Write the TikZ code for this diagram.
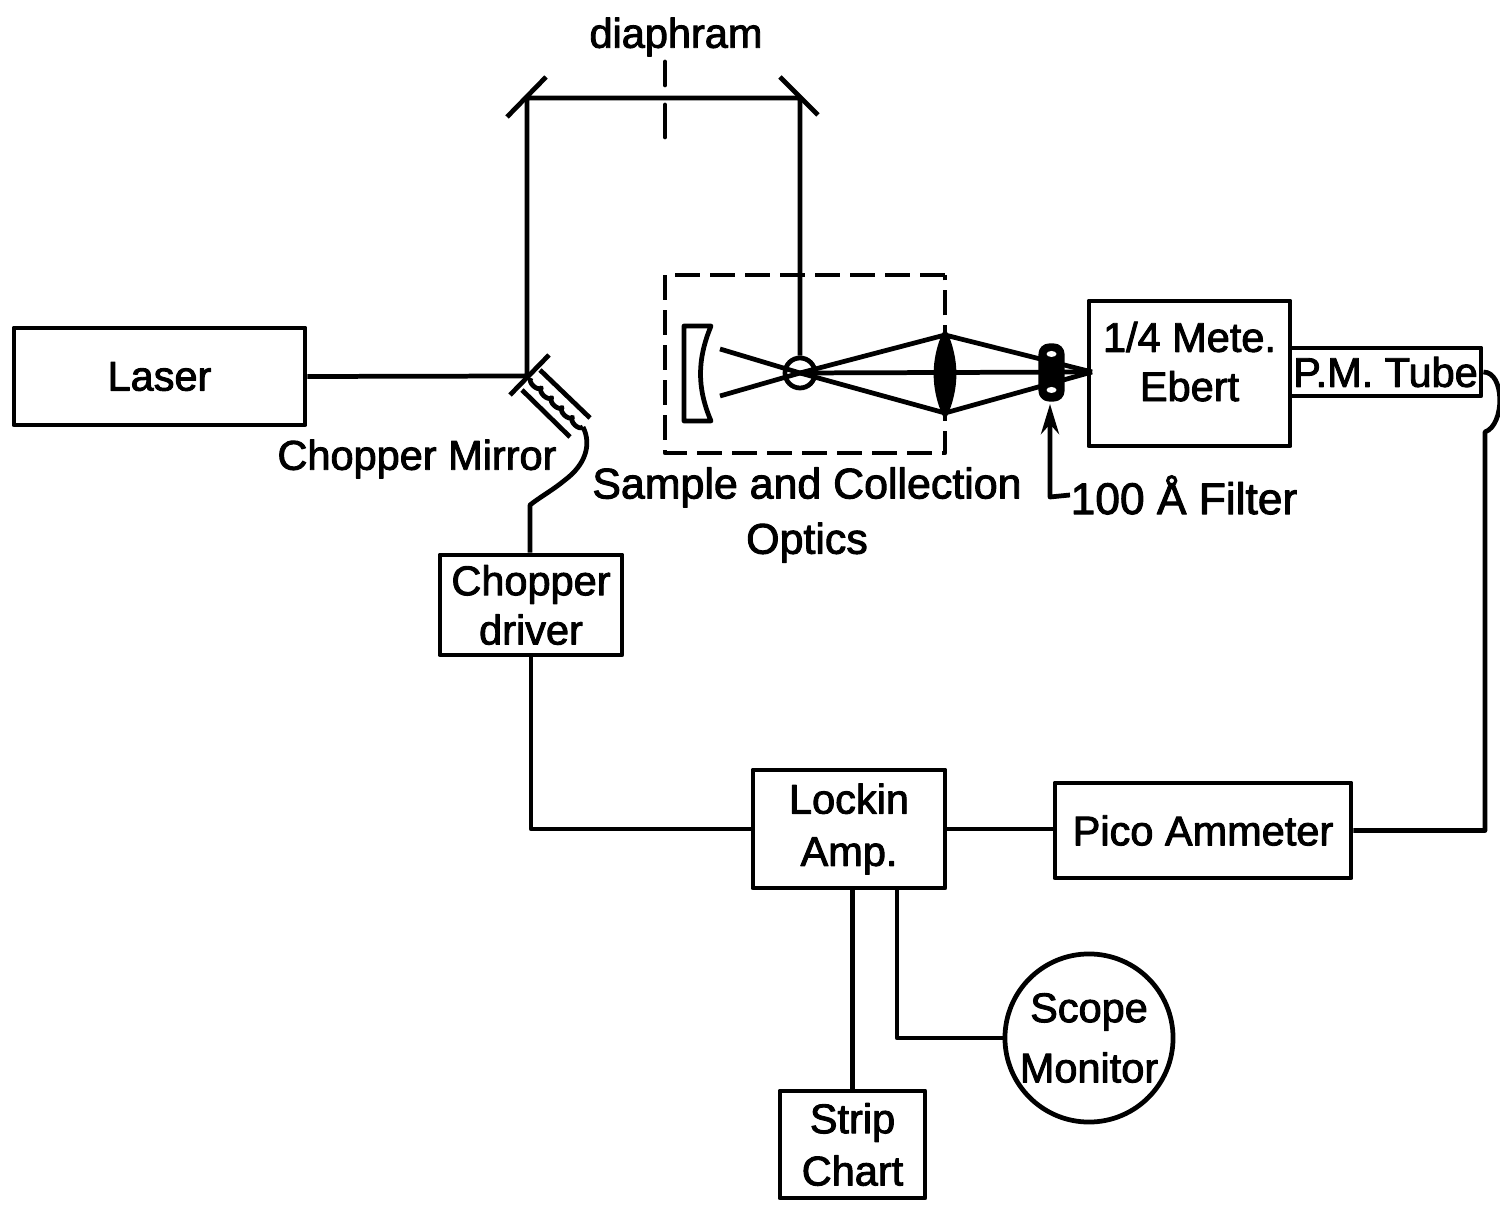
\documentclass[tikz,border=0pt]{standalone}
\usepackage{fontspec}
\setmainfont{Liberation Sans}[RawFeature={embolden=2.2}]
\usetikzlibrary{arrows.meta}
\tikzset{
  blockbox/.style={draw=black,line width=1.35pt,inner sep=0pt,align=center},
  beam/.style={black,line width=1.35pt},
  caption/.style={inner sep=0pt,align=center}
}

\begin{document}
\begin{tikzpicture}[x=.01cm,y=-.01cm,font=\fontsize{11.8}{14}\selectfont,line join=round]
\useasboundingbox (0,0) rectangle (1500,1207);
\node[blockbox,minimum width=2.91cm,minimum height=.97cm] (laser) at (159.5,376.5) {Laser};
\node[blockbox,minimum width=2.01cm,minimum height=1.45cm] (ebert) at (1189.5,373.5) {1/4 Mete.\\Ebert\\[-.25cm]};
\node[blockbox,minimum width=1.91cm,minimum height=.48cm] (pmtube) at (1385.5,372) {P.M. Tube};
\node[blockbox,minimum width=1.82cm,minimum height=1cm] (driver) at (531,605) {Chopper\\driver};
\node[blockbox,minimum width=1.92cm,minimum height=1.18cm] (lockin) at (849,829) {Lockin\\[.03cm]Amp.};
\node[blockbox,minimum width=2.96cm,minimum height=.95cm] (pico) at (1203,830.5) {Pico Ammeter};
\node[blockbox,minimum width=1.45cm,minimum height=1.07cm] (strip) at (852.5,1144.5) {Strip\\[.03cm]Chart};
\node[blockbox,circle,minimum size=1.68cm] (scope) at (1089,1038) {Scope\\[.11cm]Monitor};
\node[draw=black,line width=1.35pt,circle,minimum size=.3cm,inner sep=0pt] (sample) at (800,373) {};
\node[caption] (diaphram) at (676,37) {diaphram};
\node[caption] (choppermirror) at (417,459) {Chopper Mirror};
\node[caption,font=\fontsize{12.2}{14}\selectfont] (collection) at (807,515) {Sample and Collection\\[.06cm]Optics};
\node[caption,anchor=west,font=\fontsize{12.6}{14}\selectfont] (filterlabel) at (1070,495) {100 Å Filter};
\coordinate (chopper) at (527,376);
\coordinate (mirrorl) at (527,98);
\coordinate (mirrorr) at (800,98);
\coordinate (lenstop) at (945,335);
\coordinate (lensbot) at (945,413);
\coordinate (focus) at (1092,372);
\coordinate (coilend) at (583,427);
\coordinate (pmtop) at (1485,432);
\coordinate (filterfoot) at (1050,497);
\coordinate (filtertip) at (1050,404);
\coordinate (scopeout) at (897,888);
\draw[beam] (laser.east) -- (chopper) -- (mirrorl) -- (mirrorr) -- (sample.north);
\draw[beam] (507,117) -- (546,77);
\draw[beam] (780,77) -- (818,115);
\draw[beam,line cap=round] (665,62) -- (665,85);
\draw[beam,line cap=round] (665,105) -- (665,137);
\draw[beam] (510,395) -- (549,355);
\draw[beam] (540,370) -- (590,418);
\draw[beam] (522,390) -- (570,437);
\draw[beam] (531,378) foreach \i in {1,...,5} {to[bend right=90] ++(10.4,9.8)};
\draw[beam] (coilend) .. controls (592,445) and (585,465) .. (565,480) .. controls (553,490) and (540,497) .. (530,505) -- (driver.north -| 530,505);
\draw[beam] (driver.south) |- (lockin.west);
\draw[beam] (lockin.east) -- (lockin.east -| pico.west);
\draw[beam] (pico.east) -| (pmtop) .. controls (1505,425) and (1505,372) .. (pmtube.east);
\draw[beam] (strip.north) -- (strip.north |- lockin.south);
\draw[beam] (scopeout) |- (scope.west);
\draw[beam] (720,349) -- (sample.center) -- (lensbot) -- (focus);
\draw[beam] (720,396) -- (sample.center) -- (lenstop) -- (focus);
\draw[beam] (sample.center) -- (focus);
\draw[beam,dash pattern=on .25cm off .1cm] (945,275) -- (665,275) -- (665,453) -- (945,453) -- (945,275);
\draw[beam,fill=black] (945,333) .. controls (957,360) and (957,388) .. (945,415) .. controls (933,388) and (933,360) .. (945,333) -- cycle;
\draw[beam] (684,326) -- (711,326) .. controls (697,360) and (697,388) .. (711,421) -- (684,421) -- cycle;
\draw[black,line width=2pt,rounded corners=2pt,fill=black] (1042,347) rectangle (1061,398);
\fill[white] (1051.5,354) ellipse (5 and 3);
\fill[white] (1051.5,390) ellipse (5 and 3);
\draw[beam,-{Stealth[length=.3cm,width=.18cm]}] (filterlabel.west) -- (filterfoot) -- (filtertip);
\end{tikzpicture}
\end{document}
